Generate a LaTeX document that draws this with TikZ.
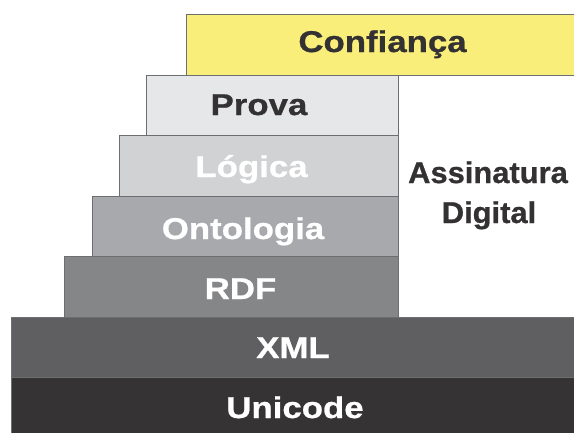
\documentclass[tikz,border=0pt]{standalone}
\usepackage{fontspec}
\setmainfont{Liberation Sans}
\newfontfamily\largas{Liberation Sans Bold}[FakeStretch=1.16, FakeBold=0.8]
\newfontfamily\estreitas{Liberation Sans Bold}[FakeStretch=1.03, FakeBold=0.8]
\definecolor{amarelo}{HTML}{F9EE7A}
\definecolor{cinzaA}{HTML}{E6E7E9}
\definecolor{cinzaB}{HTML}{D1D2D4}
\definecolor{cinzaC}{HTML}{A7A9AC}
\definecolor{cinzaD}{HTML}{858688}
\definecolor{cinzaE}{HTML}{5F5F61}
\definecolor{cinzaF}{HTML}{353334}
\definecolor{texto}{HTML}{333132}
\definecolor{borda}{HTML}{6D6E70}
\begin{document}
\begin{tikzpicture}[x=1pt, y=-1pt,
  camada/.style={draw=borda, line width=0.7pt},
  rotulo/.style={anchor=base, font=\fontsize{30}{40}\selectfont\largas, inner sep=0pt},
  lateral/.style={rotulo, font=\fontsize{30}{40}\selectfont\estreitas}]
  \useasboundingbox (0,0) rectangle (574,432);

  \filldraw[camada, fill=amarelo] (186,14) rectangle (576,75);
  \filldraw[camada, fill=white] (398.7,75) rectangle (576,317);
  \filldraw[camada, fill=cinzaA] (146,75) rectangle (398.7,135.5);
  \filldraw[camada, fill=cinzaB] (119,135.5) rectangle (398.7,196);
  \filldraw[camada, fill=cinzaC] (92,196) rectangle (398.7,256.5);
  \filldraw[camada, fill=cinzaD] (64.5,256.5) rectangle (398.7,317);
  \filldraw[camada, fill=cinzaE] (11,317) rectangle (576,377);
  \filldraw[camada, fill=cinzaF] (11,377) rectangle (576,434);

  \node[rotulo, text=texto] (confianca) at (382.5,52) {Confiança};
  \node[rotulo, text=texto] (prova) at (259,115) {Prova};
  \node[rotulo, text=white] (logica) at (251.5,177) {Lógica};
  \node[rotulo, text=white] (ontologia) at (243,239) {Ontologia};
  \node[rotulo, text=white] (rdf) at (240.5,299) {RDF};
  \node[rotulo, text=white] (xml) at (293,358) {XML};
  \node[rotulo, text=white] (unicode) at (295,418) {Unicode};
  \node[lateral, text=texto] (assinatura) at (488,183) {Assinatura};
  \node[lateral, text=texto] (digital) at (489,223) {Digital};
\end{tikzpicture}
\end{document}
